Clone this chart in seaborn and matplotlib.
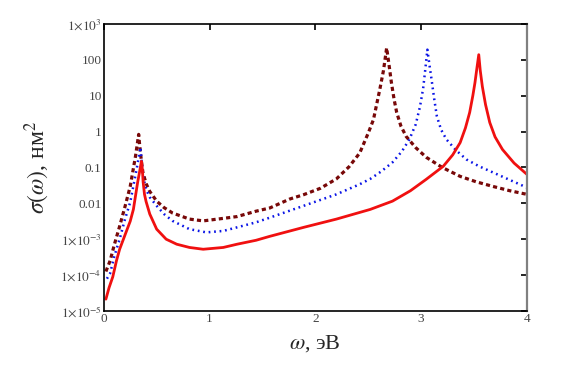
import numpy as np
import pandas as pd
import seaborn as sns
import matplotlib.pyplot as plt

# --- data (omega in eV, sigma as log10 of nm^2) ---
omega_solid = [0.02, 0.05, 0.085, 0.12, 0.15, 0.21, 0.25, 0.28, 0.32, 0.34,
               0.356, 0.365, 0.372, 0.385, 0.40, 0.435, 0.50, 0.59, 0.69, 0.81,
               0.94, 1.13, 1.26, 1.44, 1.57, 1.89, 2.2, 2.52, 2.73, 2.9,
               3.05, 3.21, 3.3, 3.37, 3.42, 3.46, 3.49, 3.51, 3.53, 3.546,
               3.56, 3.58, 3.61, 3.65, 3.7, 3.77, 3.88, 4.0]
logsig_solid = [-4.67, -4.35, -4.05, -3.6, -3.28, -2.81, -2.5, -2.17, -1.42, -1.1,
                -0.83, -1.05, -1.4, -1.75, -1.95, -2.3, -2.72, -3.0, -3.14, -3.23,
                -3.28, -3.23, -3.14, -3.03, -2.92, -2.67, -2.44, -2.17, -1.94, -1.65,
                -1.33, -0.97, -0.65, -0.31, 0.1, 0.53, 1.0, 1.36, 1.8, 2.14,
                1.7, 1.25, 0.75, 0.25, -0.15, -0.5, -0.88, -1.19]

omega_dot = [0.03, 0.06, 0.10, 0.15, 0.20, 0.25, 0.31, 0.347, 0.36, 0.375,
             0.40, 0.435, 0.50, 0.57, 0.65, 0.81, 0.97, 1.13, 1.26, 1.44,
             1.57, 1.89, 2.2, 2.42, 2.52, 2.62, 2.73, 2.82, 2.89, 2.95,
             2.99, 3.02, 3.04, 3.06, 3.08, 3.10, 3.125, 3.15, 3.19, 3.24,
             3.33, 3.43, 3.55, 3.68, 3.84, 4.0]
logsig_dot = [-4.1, -3.95, -3.47, -3.0, -2.45, -1.97, -1.06, -0.44, -0.9, -1.3,
              -1.61, -1.83, -2.07, -2.3, -2.49, -2.72, -2.81, -2.77, -2.67, -2.53,
              -2.4, -2.07, -1.75, -1.47, -1.32, -1.12, -0.86, -0.55, -0.22, 0.2,
              0.69, 1.2, 1.72, 2.28, 1.85, 1.44, 0.9, 0.42, 0.05, -0.22,
              -0.52, -0.78, -0.97, -1.14, -1.35, -1.56]

omega_dash = [0.02, 0.06, 0.10, 0.15, 0.20, 0.25, 0.30, 0.33, 0.34, 0.355,
              0.37, 0.40, 0.435, 0.50, 0.57, 0.65, 0.81, 0.94, 1.13, 1.26,
              1.44, 1.57, 1.76, 1.89, 2.05, 2.2, 2.32, 2.42, 2.5, 2.55,
              2.61, 2.645, 2.675, 2.70, 2.72, 2.745, 2.77, 2.81, 2.86, 2.95,
              3.05, 3.2, 3.37, 3.52, 3.68, 3.84, 4.0]
logsig_dash = [-3.9, -3.6, -3.15, -2.64, -2.1, -1.53, -0.69, -0.08, -0.4, -0.8,
               -1.14, -1.45, -1.67, -1.94, -2.12, -2.27, -2.44, -2.49, -2.42, -2.37,
               -2.22, -2.13, -1.88, -1.76, -1.58, -1.32, -0.98, -0.6, -0.05, 0.33,
               1.17, 1.7, 2.33, 1.8, 1.36, 0.9, 0.53, 0.15, -0.14, -0.45,
               -0.72, -1.0, -1.25, -1.4, -1.53, -1.65, -1.75]

y_ticks = [1e-5, 1e-4, 1e-3, 1e-2, 1e-1, 1, 10, 100, 1e3]
y_tick_labels = [r"$1{\times}10^{-5}$", r"$1{\times}10^{-4}$", r"$1{\times}10^{-3}$",
                 "0.01", "0.1", "1", "10", "100", r"$1{\times}10^{3}$"]
x_ticks = [0, 1, 2, 3, 4]

sns.set_theme(style="white")
plt.rcParams["font.family"] = ["Liberation Serif", "DejaVu Serif"]
plt.rcParams["mathtext.fontset"] = "stix"

fig = plt.figure(figsize=(5.64, 3.72), dpi=100)
ax = fig.add_axes([0.184, 0.164, 0.750, 0.772])

solid = pd.DataFrame({"omega": omega_solid, "sigma": 10.0 ** np.array(logsig_solid)})
dot = pd.DataFrame({"omega": omega_dot, "sigma": 10.0 ** np.array(logsig_dot)})
dash = pd.DataFrame({"omega": omega_dash, "sigma": 10.0 ** np.array(logsig_dash)})

# dark red short dashes
sns.lineplot(data=dash, x="omega", y="sigma", ax=ax, color="#780808",
             linewidth=2.3, sort=False)
ax.lines[-1].set_dashes((1.3, 1.0))
# blue dots
sns.lineplot(data=dot, x="omega", y="sigma", ax=ax, color="#0a14e6",
             linewidth=1.8, sort=False)
ax.lines[-1].set_dashes((0.7, 1.5))
# red solid
sns.lineplot(data=solid, x="omega", y="sigma", ax=ax, color="#f01010",
             linewidth=2.0, sort=False)

ax.set_yscale("log")
ax.set_xlim(0, 4)
ax.set_ylim(1e-5, 1e3)
ax.set_xticks(x_ticks)
ax.set_xticklabels([str(t) for t in x_ticks])
ax.set_yticks(y_ticks)
ax.set_yticklabels(y_tick_labels)
ax.minorticks_off()

ax.tick_params(direction="in", length=4, width=1.2, top=True, right=True,
               labelsize=9.5, labelcolor="#444444", pad=1.5, color="black")
for side in ["left", "bottom", "top"]:
    ax.spines[side].set_color("black")
    ax.spines[side].set_linewidth(1.2)
ax.spines["right"].set_color("#808080")
ax.spines["right"].set_linewidth(1.6)

ax.set_xlabel(r"$\omega$, эВ", fontsize=16, labelpad=6)
ax.set_ylabel(r"$\sigma(\omega)$, нм$^2$", fontsize=17, labelpad=6)

fig.savefig("out.png", dpi=100)
